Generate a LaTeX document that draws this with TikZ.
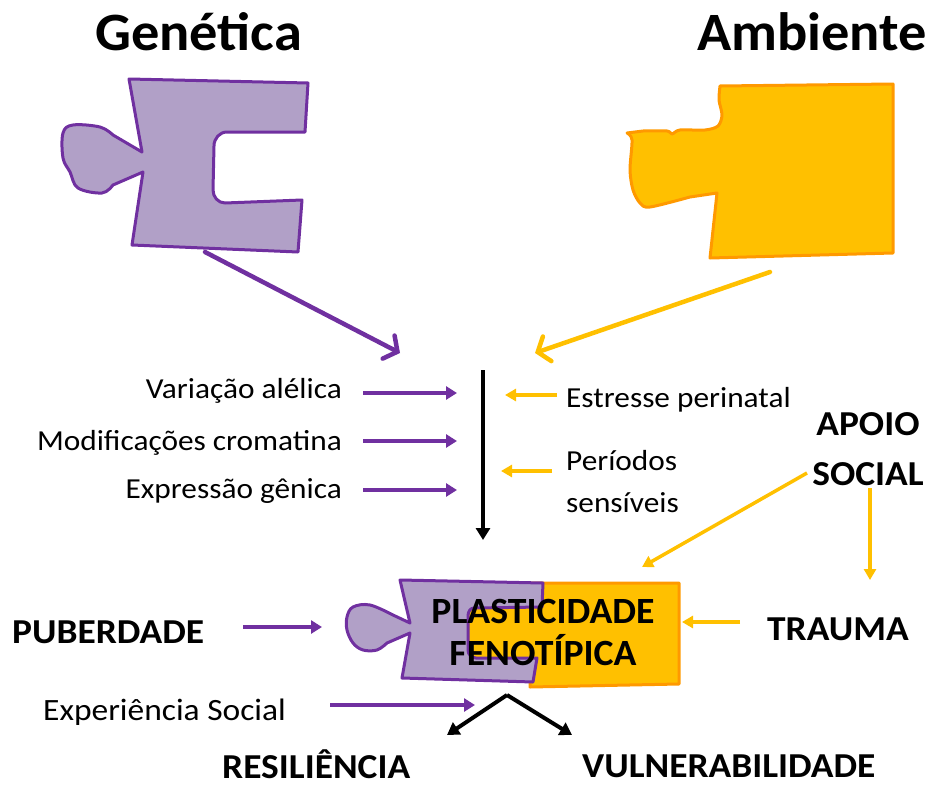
\documentclass[tikz,border=0pt]{standalone}
\usepackage{fontspec}
\setmainfont{Carlito}
\newfontfamily\rfont[FakeStretch=1.08]{Carlito}
\newfontfamily\bfont[FakeStretch=1.07]{Carlito}
\newfontfamily\tfont[FakeStretch=1.045]{Carlito}
\newfontfamily\pfont[FakeStretch=1.02]{Carlito}
\usetikzlibrary{arrows.meta}
\definecolor{pur}{HTML}{7030A0}
\definecolor{purfill}{HTML}{B1A0C7}
\definecolor{org}{HTML}{FFC000}
\definecolor{orgline}{HTML}{FF9900}
\begin{document}
\begin{tikzpicture}[x=1pt,y=-1pt,
  lbl/.style={inner sep=0pt, font=\rfont\fontsize{29}{42}\selectfont},
  blbl/.style={inner sep=0pt, font=\bfont\fontsize{35}{50}\selectfont\bfseries},
  ttl/.style={inner sep=0pt, font=\tfont\fontsize{54}{60}\selectfont\bfseries},
  plast/.style={inner sep=0pt, font=\pfont\fontsize{37}{42}\selectfont\bfseries},
  ppiece/.style={fill=purfill, draw=pur, line width=3pt, line join=round},
  opiece/.style={fill=org, draw=orgline, line width=3pt, line join=round},
  parr/.style={pur, line width=4.5pt, -{Triangle[length=11pt,width=13pt]}},
  oarr/.style={org, line width=3.5pt, -{Triangle[length=11pt,width=12pt]}},
  karr/.style={black, line width=4pt, -{Triangle[length=12pt,width=14pt]}},
  bigp/.style={pur, line width=4.5pt, line cap=round, -{Straight Barb[length=10pt,width=26pt,line cap=round]}},
  bigo/.style={org, line width=4.5pt, line cap=round, -{Straight Barb[length=10pt,width=26pt,line cap=round]}}]
\useasboundingbox (0,0) rectangle (929,787);

% titles
\node[ttl, anchor=base west] (gen) at (95,50) {Genética};
\node[ttl, anchor=base west] (amb) at (697,50) {Ambiente};

% top purple piece
\path[ppiece] (129,79) -- (308,83) -- (305,132) -- (227,132) to[out=180,in=90] (214,146) -- (213,190) to[out=-90,in=180] (225,203) -- (302,200) -- (298,252) -- (132,245) -- (143,172)
  -- plot[smooth, tension=0.6] coordinates {(113,185) (102,193) (78,188) (70,172) (63,158) (63,133) (73,125) (100,127) (113,135)} -- (142,152) -- cycle;

% top orange piece
\path[opiece] (720,86) -- (893,84) -- (893,253) -- (710,258) -- (717,193)
  -- plot[smooth, tension=0.5] coordinates {(690,197) (650,207) (640,203) (633,190) (630,170) (632,140) (627,133)}
  -- plot[smooth, tension=0.5] coordinates {(643,131) (667,131) (672,134) (680,130) (705,130) (718,126) (722,115) (719,100) (720,86)} -- cycle;

% bottom combined pieces
\path[opiece] (530,583) -- (679,583) -- (679,684) -- (530,687) -- (530,660) -- (466,660) -- (466,606) -- (530,606) -- cycle;
\path[ppiece] (400,580) -- (543,583) -- (542,607) -- (474,608) to[out=180,in=90] (468,616) -- (468,650) to[out=-90,in=180] (476,658) -- (537,658) -- (533,682) -- (402,678) -- (410,633)
  -- plot[smooth, tension=0.6] coordinates {(387,643) (377,650) (363,650) (353,643) (347,630) (347,617) (353,607) (370,605) (393,615)} -- (410,623) -- cycle;
\node[plast, align=center, anchor=base] (plas) at (543,665) {PLASTICIDADE\\FENOTÍPICA};

% labels
\node[lbl, anchor=base east] (var) at (342,398) {Variação alélica};
\node[lbl, anchor=base east] (mod) at (342,450) {Modificações cromatina};
\node[lbl, anchor=base east] (expg) at (342,498) {Expressão gênica};
\node[lbl, anchor=base west] (est) at (566,407) {Estresse perinatal};
\node[lbl, anchor=base west, align=left] (per) at (566,512) {Períodos\\sensíveis};
\node[blbl, anchor=base, align=center] (apo) at (868,485) {APOIO\\SOCIAL};
\node[blbl, anchor=base west] (pub) at (12,643) {PUBERDADE};
\node[blbl, anchor=base west] (tra) at (767,640) {TRAUMA};
\node[lbl, anchor=base west, font=\rfont\fontsize{31}{38}\selectfont] (exps) at (43,720) {Experiência Social};
\node[blbl, anchor=base west] (res) at (222,778) {RESILIÊNCIA};
\node[blbl, anchor=base west] (vul) at (582,777) {VULNERABILIDADE};

% coordinates for connectors
\coordinate (gs) at (205,252); \coordinate (ge) at (400,353);
\coordinate (as) at (770,272); \coordinate (ae) at (535,353);
\coordinate (v1s) at (363,393); \coordinate (v1e) at (457,393);
\coordinate (v2s) at (363,441); \coordinate (v2e) at (457,441);
\coordinate (v3s) at (363,490); \coordinate (v3e) at (457,490);
\coordinate (e1s) at (557,395); \coordinate (e1e) at (505,395);
\coordinate (e2s) at (552,471); \coordinate (e2e) at (501,471);
\coordinate (ks) at (483,370); \coordinate (ke) at (483,540);
\coordinate (s1s) at (807,473); \coordinate (s1e) at (642,567);
\coordinate (s2s) at (870,488); \coordinate (s2e) at (870,580);
\coordinate (ps) at (243,627); \coordinate (pe) at (322,627);
\coordinate (ts) at (740,622); \coordinate (te) at (682,622);
\coordinate (xs) at (330,705); \coordinate (xe) at (475,705);
\coordinate (apex) at (507,695); \coordinate (rl) at (447,735); \coordinate (rr) at (572,735);

\draw[bigp] (gs) -- (ge);
\draw[bigo] (as) -- (ae);
\draw[parr] (v1s) -- (v1e);
\draw[parr] (v2s) -- (v2e);
\draw[parr] (v3s) -- (v3e);
\draw[oarr] (e1s) -- (e1e);
\draw[oarr] (e2s) -- (e2e);
\draw[karr] (ks) -- (ke);
\draw[oarr] (s1s) -- (s1e);
\draw[oarr] (s2s) -- (s2e);
\draw[parr] (ps) -- (pe);
\draw[oarr] (ts) -- (te);
\draw[parr] (xs) -- (xe);
\draw[karr] (apex) -- (rl);
\draw[karr] (apex) -- (rr);
\end{tikzpicture}
\end{document}
